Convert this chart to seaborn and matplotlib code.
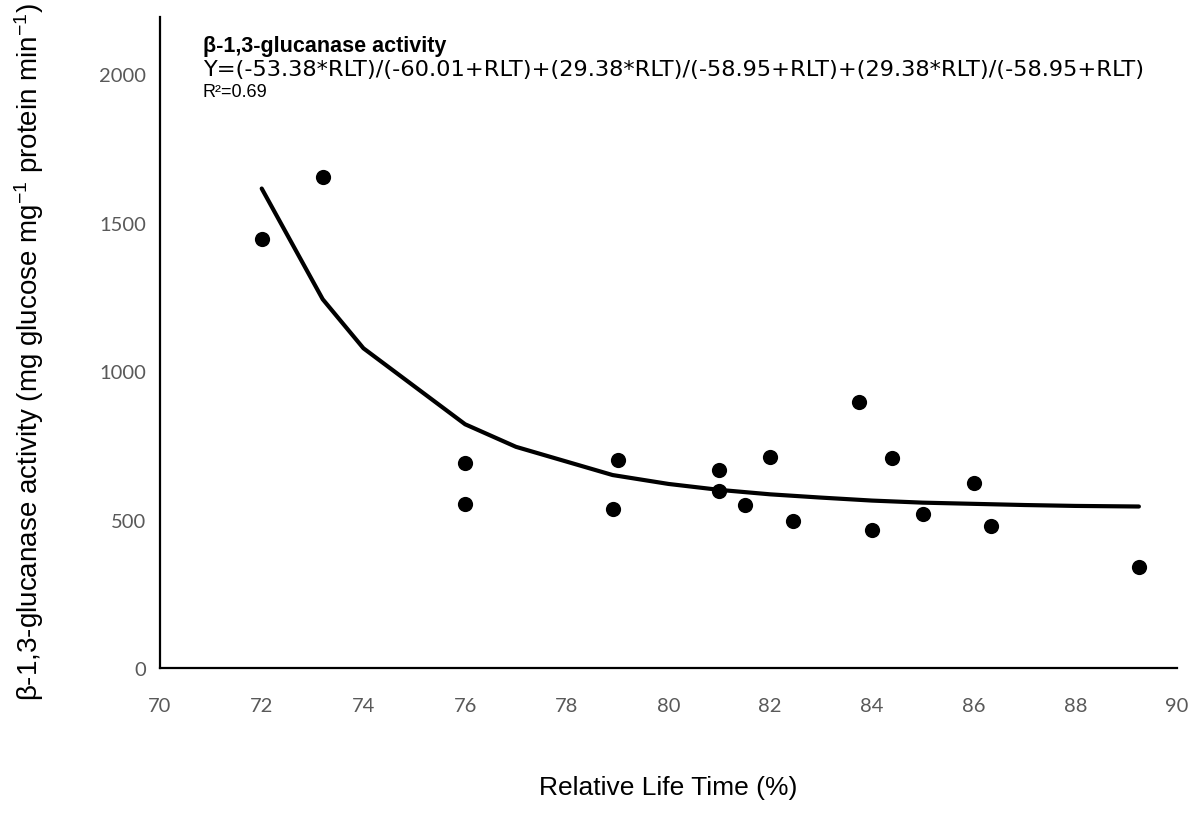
import matplotlib
matplotlib.use("Agg")
import matplotlib.pyplot as plt
import seaborn as sns
import pandas as pd

# Measured enzyme activity vs. relative life time
rlt_obs = [72.0, 73.2, 76.0, 76.0, 79.0, 78.9, 81.0, 81.0, 81.5, 82.0,
           82.45, 83.75, 84.0, 84.4, 85.0, 86.0, 86.35, 89.25]
activity_obs = [1444, 1655, 692, 554, 701, 535, 668, 595, 550, 711,
                496, 895, 465, 706, 518, 622, 479, 339]

# Fitted model curve
rlt_fit = [72.0, 73.2, 74.0, 76.0, 77.0, 78.9, 80.0, 81.0, 82.0, 83.0,
           84.0, 85.0, 86.0, 87.0, 88.0, 89.25]
activity_fit = [1615, 1242, 1077, 821, 745, 650, 620, 600, 585, 574,
                564, 557, 553, 549, 546, 544]

x_ticks = [70, 72, 74, 76, 78, 80, 82, 84, 86, 88, 90]
y_ticks = [0, 500, 1000, 1500, 2000]

title_text = "β-1,3-glucanase activity"
equation_text = "Y=(-53.38*RLT)/(-60.01+RLT)+(29.38*RLT)/(-58.95+RLT)+(29.38*RLT)/(-58.95+RLT)"
r2_text = "R²=0.69"
x_label = "Relative Life Time (%)"
y_label = "β-1,3-glucanase activity (mg glucose mg$^{-1}$ protein min$^{-1}$)"

obs = pd.DataFrame({"rlt": rlt_obs, "activity": activity_obs})
fit = pd.DataFrame({"rlt": rlt_fit, "activity": activity_fit})

sns.set_theme(style="white")
plt.rcParams["font.family"] = ["Liberation Sans", "DejaVu Sans"]
plt.rcParams["mathtext.fontset"] = "custom"
plt.rcParams["mathtext.rm"] = "Liberation Sans"
plt.rcParams["mathtext.it"] = "Liberation Sans"
plt.rcParams["mathtext.default"] = "rm"

fig = plt.figure(figsize=(12.04, 8.28), dpi=100)
ax = fig.add_axes([0.1329, 0.192, 0.8447, 0.786])

sns.lineplot(data=fit, x="rlt", y="activity", ax=ax, color="black",
             linewidth=3.0, sort=False, solid_capstyle="round",
             solid_joinstyle="miter")
sns.scatterplot(data=obs, x="rlt", y="activity", ax=ax, color="black",
                s=120, edgecolor="black", linewidth=0, zorder=3)

ax.set_xlim(70, 90)
ax.set_ylim(0, 2192)
ax.set_xticks(x_ticks)
ax.set_yticks(y_ticks)
tick_font = {"family": ["Lato", "DejaVu Sans"], "size": 14.5, "color": "#595959"}
ax.set_xticklabels([str(t) for t in x_ticks], **tick_font)
ax.set_yticklabels([str(t) for t in y_ticks], **tick_font)
ax.tick_params(axis="both", length=0)
ax.tick_params(axis="x", pad=21)
ax.tick_params(axis="y", pad=10)

for side in ("top", "right"):
    ax.spines[side].set_visible(False)
for side in ("left", "bottom"):
    ax.spines[side].set_color("black")
    ax.spines[side].set_linewidth(1.6)

ax.set_xlabel(x_label, fontsize=19, color="black", labelpad=44)
ax.set_ylabel(y_label, fontsize=20, color="black")
ax.yaxis.set_label_coords(-0.112, 0.487)

ax.text(0.042, 0.948, title_text, transform=ax.transAxes, fontsize=15.5,
        fontweight="bold", color="black", va="baseline", ha="left")
ax.text(0.042, 0.911, equation_text, transform=ax.transAxes, fontsize=16.2,
        family=["DejaVu Sans"], color="black", va="baseline", ha="left")
ax.text(0.042, 0.879, r2_text, transform=ax.transAxes, fontsize=13,
        color="black", va="baseline", ha="left")

fig.savefig("out.png", dpi=100)
